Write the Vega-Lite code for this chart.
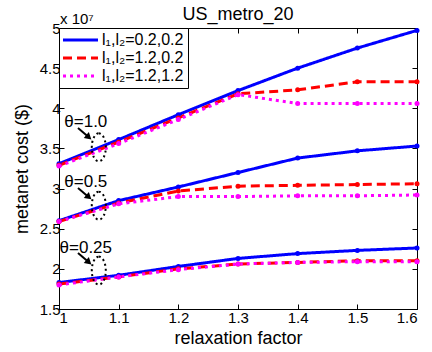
{
  "$schema": "https://vega.github.io/schema/vega-lite/v6.json",
  "width": 358,
  "height": 281,
  "autosize": "none",
  "padding": {"left": 59, "top": 28, "right": 15, "bottom": 43},
  "title": {"text": "US_metro_20", "fontSize": 18, "font": "Liberation Sans", "fontWeight": "normal", "offset": -12, "frame": "group", "anchor": "middle", "color": "black"},
  "config": {
    "view": {"stroke": "black", "strokeWidth": 1},
    "font": "Liberation Sans",
    "axis": {"grid": false, "domainColor": "black", "tickColor": "black", "labelColor": "black", "titleColor": "black", "labelFont": "Liberation Sans", "titleFont": "Liberation Sans", "labelFontSize": 15, "titleFontSize": 18, "titleFontWeight": "normal", "tickSize": -5},
    "legend": {"orient": "top-left", "offset": 0, "strokeColor": "black", "fillColor": "white", "padding": 4, "labelFontSize": 16, "labelFont": "Liberation Sans", "labelColor": "black", "symbolType": "M-1.6,0H5.4", "symbolSize": 100, "symbolStrokeWidth": 3, "labelOffset": 23, "rowPadding": 2}
  },
  "datasets": {
    "curves": [
      {"theta": "1.0", "series": "l₁,l₂=0.2,0.2", "relaxation": 1.0, "cost_1e7": 3.31},
      {"theta": "1.0", "series": "l₁,l₂=0.2,0.2", "relaxation": 1.1, "cost_1e7": 3.61},
      {"theta": "1.0", "series": "l₁,l₂=0.2,0.2", "relaxation": 1.2, "cost_1e7": 3.92},
      {"theta": "1.0", "series": "l₁,l₂=0.2,0.2", "relaxation": 1.3, "cost_1e7": 4.22},
      {"theta": "1.0", "series": "l₁,l₂=0.2,0.2", "relaxation": 1.4, "cost_1e7": 4.50},
      {"theta": "1.0", "series": "l₁,l₂=0.2,0.2", "relaxation": 1.5, "cost_1e7": 4.75},
      {"theta": "1.0", "series": "l₁,l₂=0.2,0.2", "relaxation": 1.6, "cost_1e7": 4.97},
      {"theta": "0.5", "series": "l₁,l₂=0.2,0.2", "relaxation": 1.0, "cost_1e7": 2.60},
      {"theta": "0.5", "series": "l₁,l₂=0.2,0.2", "relaxation": 1.1, "cost_1e7": 2.85},
      {"theta": "0.5", "series": "l₁,l₂=0.2,0.2", "relaxation": 1.2, "cost_1e7": 3.02},
      {"theta": "0.5", "series": "l₁,l₂=0.2,0.2", "relaxation": 1.3, "cost_1e7": 3.20},
      {"theta": "0.5", "series": "l₁,l₂=0.2,0.2", "relaxation": 1.4, "cost_1e7": 3.38},
      {"theta": "0.5", "series": "l₁,l₂=0.2,0.2", "relaxation": 1.5, "cost_1e7": 3.47},
      {"theta": "0.5", "series": "l₁,l₂=0.2,0.2", "relaxation": 1.6, "cost_1e7": 3.53},
      {"theta": "0.25", "series": "l₁,l₂=0.2,0.2", "relaxation": 1.0, "cost_1e7": 1.83},
      {"theta": "0.25", "series": "l₁,l₂=0.2,0.2", "relaxation": 1.1, "cost_1e7": 1.92},
      {"theta": "0.25", "series": "l₁,l₂=0.2,0.2", "relaxation": 1.2, "cost_1e7": 2.03},
      {"theta": "0.25", "series": "l₁,l₂=0.2,0.2", "relaxation": 1.3, "cost_1e7": 2.13},
      {"theta": "0.25", "series": "l₁,l₂=0.2,0.2", "relaxation": 1.4, "cost_1e7": 2.19},
      {"theta": "0.25", "series": "l₁,l₂=0.2,0.2", "relaxation": 1.5, "cost_1e7": 2.23},
      {"theta": "0.25", "series": "l₁,l₂=0.2,0.2", "relaxation": 1.6, "cost_1e7": 2.26},
      {"theta": "1.0", "series": "l₁,l₂=1.2,0.2", "relaxation": 1.0, "cost_1e7": 3.29},
      {"theta": "1.0", "series": "l₁,l₂=1.2,0.2", "relaxation": 1.1, "cost_1e7": 3.58},
      {"theta": "1.0", "series": "l₁,l₂=1.2,0.2", "relaxation": 1.2, "cost_1e7": 3.88},
      {"theta": "1.0", "series": "l₁,l₂=1.2,0.2", "relaxation": 1.3, "cost_1e7": 4.18},
      {"theta": "1.0", "series": "l₁,l₂=1.2,0.2", "relaxation": 1.4, "cost_1e7": 4.23},
      {"theta": "1.0", "series": "l₁,l₂=1.2,0.2", "relaxation": 1.5, "cost_1e7": 4.33},
      {"theta": "1.0", "series": "l₁,l₂=1.2,0.2", "relaxation": 1.6, "cost_1e7": 4.33},
      {"theta": "0.5", "series": "l₁,l₂=1.2,0.2", "relaxation": 1.0, "cost_1e7": 2.59},
      {"theta": "0.5", "series": "l₁,l₂=1.2,0.2", "relaxation": 1.1, "cost_1e7": 2.82},
      {"theta": "0.5", "series": "l₁,l₂=1.2,0.2", "relaxation": 1.2, "cost_1e7": 2.97},
      {"theta": "0.5", "series": "l₁,l₂=1.2,0.2", "relaxation": 1.3, "cost_1e7": 3.03},
      {"theta": "0.5", "series": "l₁,l₂=1.2,0.2", "relaxation": 1.4, "cost_1e7": 3.04},
      {"theta": "0.5", "series": "l₁,l₂=1.2,0.2", "relaxation": 1.5, "cost_1e7": 3.05},
      {"theta": "0.5", "series": "l₁,l₂=1.2,0.2", "relaxation": 1.6, "cost_1e7": 3.06},
      {"theta": "0.25", "series": "l₁,l₂=1.2,0.2", "relaxation": 1.0, "cost_1e7": 1.81},
      {"theta": "0.25", "series": "l₁,l₂=1.2,0.2", "relaxation": 1.1, "cost_1e7": 1.90},
      {"theta": "0.25", "series": "l₁,l₂=1.2,0.2", "relaxation": 1.2, "cost_1e7": 2.00},
      {"theta": "0.25", "series": "l₁,l₂=1.2,0.2", "relaxation": 1.3, "cost_1e7": 2.06},
      {"theta": "0.25", "series": "l₁,l₂=1.2,0.2", "relaxation": 1.4, "cost_1e7": 2.08},
      {"theta": "0.25", "series": "l₁,l₂=1.2,0.2", "relaxation": 1.5, "cost_1e7": 2.10},
      {"theta": "0.25", "series": "l₁,l₂=1.2,0.2", "relaxation": 1.6, "cost_1e7": 2.10},
      {"theta": "1.0", "series": "l₁,l₂=1.2,1.2", "relaxation": 1.0, "cost_1e7": 3.28},
      {"theta": "1.0", "series": "l₁,l₂=1.2,1.2", "relaxation": 1.1, "cost_1e7": 3.56},
      {"theta": "1.0", "series": "l₁,l₂=1.2,1.2", "relaxation": 1.2, "cost_1e7": 3.86},
      {"theta": "1.0", "series": "l₁,l₂=1.2,1.2", "relaxation": 1.3, "cost_1e7": 4.17},
      {"theta": "1.0", "series": "l₁,l₂=1.2,1.2", "relaxation": 1.4, "cost_1e7": 4.06},
      {"theta": "1.0", "series": "l₁,l₂=1.2,1.2", "relaxation": 1.5, "cost_1e7": 4.06},
      {"theta": "1.0", "series": "l₁,l₂=1.2,1.2", "relaxation": 1.6, "cost_1e7": 4.06},
      {"theta": "0.5", "series": "l₁,l₂=1.2,1.2", "relaxation": 1.0, "cost_1e7": 2.59},
      {"theta": "0.5", "series": "l₁,l₂=1.2,1.2", "relaxation": 1.1, "cost_1e7": 2.81},
      {"theta": "0.5", "series": "l₁,l₂=1.2,1.2", "relaxation": 1.2, "cost_1e7": 2.90},
      {"theta": "0.5", "series": "l₁,l₂=1.2,1.2", "relaxation": 1.3, "cost_1e7": 2.90},
      {"theta": "0.5", "series": "l₁,l₂=1.2,1.2", "relaxation": 1.4, "cost_1e7": 2.91},
      {"theta": "0.5", "series": "l₁,l₂=1.2,1.2", "relaxation": 1.5, "cost_1e7": 2.91},
      {"theta": "0.5", "series": "l₁,l₂=1.2,1.2", "relaxation": 1.6, "cost_1e7": 2.92},
      {"theta": "0.25", "series": "l₁,l₂=1.2,1.2", "relaxation": 1.0, "cost_1e7": 1.80},
      {"theta": "0.25", "series": "l₁,l₂=1.2,1.2", "relaxation": 1.1, "cost_1e7": 1.90},
      {"theta": "0.25", "series": "l₁,l₂=1.2,1.2", "relaxation": 1.2, "cost_1e7": 1.99},
      {"theta": "0.25", "series": "l₁,l₂=1.2,1.2", "relaxation": 1.3, "cost_1e7": 2.06},
      {"theta": "0.25", "series": "l₁,l₂=1.2,1.2", "relaxation": 1.4, "cost_1e7": 2.08},
      {"theta": "0.25", "series": "l₁,l₂=1.2,1.2", "relaxation": 1.5, "cost_1e7": 2.09},
      {"theta": "0.25", "series": "l₁,l₂=1.2,1.2", "relaxation": 1.6, "cost_1e7": 2.09}
    ],
    "annotations": [
      {"label": "θ=1.0", "tx": 1.0449, "ty": 3.763, "ax1": 1.0318, "ay1": 3.755, "ax2": 1.0486, "ay2": 3.649, "ex": 1.0667, "ey": 3.514},
      {"label": "θ=0.5", "tx": 1.0449, "ty": 3.016, "ax1": 1.0318, "ay1": 3.007, "ax2": 1.0486, "ay2": 2.902, "ex": 1.0667, "ey": 2.787},
      {"label": "θ=0.25", "tx": 1.0449, "ty": 2.201, "ax1": 1.0318, "ay1": 2.198, "ax2": 1.0486, "ay2": 2.092, "ex": 1.0667, "ey": 1.978}
    ],
    "exponent": [
      {"text": "x 10⁷", "relaxation": 1.0, "cost_1e7": 5.0}
    ]
  },
  "layer": [
    {
      "data": {"name": "curves"},
      "mark": {"type": "line", "strokeWidth": 3},
      "encoding": {
        "x": {"field": "relaxation", "type": "quantitative", "scale": {"domain": [1, 1.6], "nice": false, "zero": false},
              "axis": {"orient": "bottom", "values": [1, 1.1, 1.2, 1.3, 1.4, 1.5, 1.6], "format": "~g", "title": "relaxation factor", "labelPadding": 6, "titlePadding": 4}},
        "y": {"field": "cost_1e7", "type": "quantitative", "scale": {"domain": [1.5, 5], "nice": false, "zero": false},
              "axis": {"orient": "left", "values": [1.5, 2, 2.5, 3, 3.5, 4, 4.5, 5], "format": "~g", "title": "metanet cost ($)", "labelPadding": 4, "titlePadding": 8}},
        "color": {"field": "series", "type": "nominal", "sort": null,
                  "scale": {"domain": ["l₁,l₂=0.2,0.2", "l₁,l₂=1.2,0.2", "l₁,l₂=1.2,1.2"], "range": ["#0000ff", "#ff0000", "#ff00ff"]},
                  "legend": {"title": null}},
        "strokeDash": {"field": "series", "type": "nominal", "sort": null,
                  "scale": {"domain": ["l₁,l₂=0.2,0.2", "l₁,l₂=1.2,0.2", "l₁,l₂=1.2,1.2"], "range": [[1, 0], [9, 5], [3, 4]]},
                  "legend": {"title": null}},
        "detail": {"field": "theta", "type": "nominal"},
        "order": {"field": "relaxation", "type": "quantitative"}
      }
    },
    {
      "data": {"name": "curves"},
      "mark": {"type": "point", "filled": true, "shape": "circle", "size": 25, "opacity": 1},
      "encoding": {
        "x": {"field": "relaxation", "type": "quantitative",
              "axis": {"orient": "top", "values": [1, 1.1, 1.2, 1.3, 1.4, 1.5, 1.6], "labels": false, "title": null, "domain": false}},
        "y": {"field": "cost_1e7", "type": "quantitative",
              "axis": {"orient": "right", "values": [1.5, 2, 2.5, 3, 3.5, 4, 4.5, 5], "labels": false, "title": null, "domain": false}},
        "color": {"field": "series", "type": "nominal", "legend": null}
      }
    },
    {
      "data": {"name": "annotations"},
      "mark": {"type": "text", "fontSize": 17, "font": "Liberation Sans", "align": "center", "baseline": "alphabetic", "color": "black"},
      "encoding": {
        "x": {"field": "tx", "type": "quantitative", "axis": null},
        "y": {"field": "ty", "type": "quantitative", "axis": null},
        "text": {"field": "label"}
      }
    },
    {
      "data": {"name": "annotations"},
      "mark": {"type": "rule", "strokeWidth": 2, "color": "black"},
      "encoding": {
        "x": {"field": "ax1", "type": "quantitative", "axis": null},
        "y": {"field": "ay1", "type": "quantitative", "axis": null},
        "x2": {"field": "ax2"},
        "y2": {"field": "ay2"}
      }
    },
    {
      "data": {"name": "annotations"},
      "mark": {"type": "point", "shape": "triangle", "filled": true, "size": 60, "angle": 131, "color": "black", "opacity": 1},
      "encoding": {
        "x": {"field": "ax2", "type": "quantitative", "axis": null},
        "y": {"field": "ay2", "type": "quantitative", "axis": null}
      }
    },
    {
      "data": {"name": "annotations"},
      "mark": {"type": "point", "shape": "M0,-1A0.5,1,0,1,1,0,1A0.5,1,0,1,1,0,-1", "filled": false, "size": 784, "stroke": "black", "strokeWidth": 2, "strokeDash": [2, 3], "opacity": 1},
      "encoding": {
        "x": {"field": "ex", "type": "quantitative", "axis": null},
        "y": {"field": "ey", "type": "quantitative", "axis": null}
      }
    },
    {
      "data": {"name": "exponent"},
      "mark": {"type": "text", "fontSize": 15, "font": "Liberation Sans", "align": "left", "baseline": "alphabetic", "dx": 1, "dy": -4, "color": "black"},
      "encoding": {
        "x": {"field": "relaxation", "type": "quantitative", "axis": null},
        "y": {"field": "cost_1e7", "type": "quantitative", "axis": null},
        "text": {"field": "text"}
      }
    }
  ],
  "resolve": {"axis": {"x": "independent", "y": "independent"}}
}
